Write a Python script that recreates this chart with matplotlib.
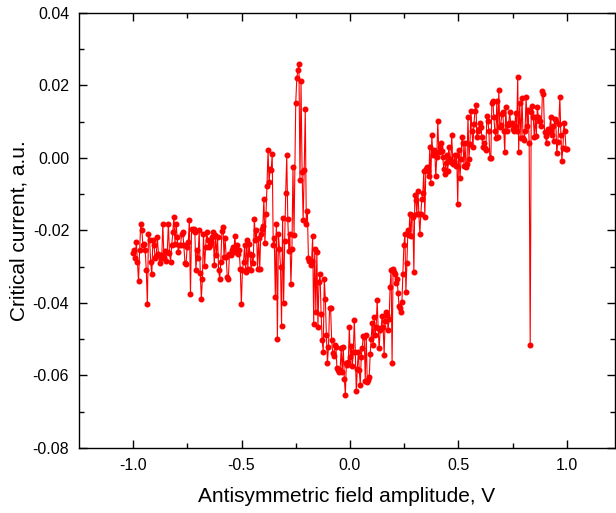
import numpy as np
import matplotlib
matplotlib.use("Agg")
import matplotlib.pyplot as plt
from matplotlib.ticker import MultipleLocator, FormatStrFormatter

plt.rcParams["font.family"] = ["Liberation Sans", "DejaVu Sans"]
plt.rcParams["axes.unicode_minus"] = False

# critical current, in pieces (left to right)
seg1 = [-0.0262, -0.0253, -0.0277, -0.0232, -0.0287, -0.0340, -0.0255, -0.0181, -0.0200, -0.0241,
        -0.0236, -0.0253, -0.0308, -0.0403, -0.0209, -0.0225, -0.0287, -0.0321, -0.0227, -0.0239,
        -0.0275, -0.0271, -0.0218, -0.0264, -0.0291, -0.0268, -0.0275, -0.0181, -0.0277, -0.0256,
        -0.0285, -0.0259, -0.0181, -0.0262, -0.0287, -0.0241, -0.0204, -0.0163, -0.0236, -0.0183,
        -0.0218, -0.0259, -0.0241, -0.0241, -0.0209, -0.0204, -0.0241, -0.0289, -0.0293, -0.0245,
        -0.0232, -0.0172, -0.0376, -0.0195, -0.0200]
seg2 = [-0.0195, -0.0204, -0.0310, -0.0255, -0.0277, -0.0198, -0.0317, -0.0388, -0.0333, -0.0211,
        -0.0299, -0.0245, -0.0204, -0.0227, -0.0245, -0.0241, -0.0232, -0.0218, -0.0204, -0.0296,
        -0.0213, -0.0268, -0.0218, -0.0310, -0.0333, -0.0287, -0.0201, -0.0189, -0.0273, -0.0222,
        -0.0273, -0.0328, -0.0333, -0.0264, -0.0268, -0.0255, -0.0245, -0.0259, -0.0216, -0.0255,
        -0.0241, -0.0264, -0.0255, -0.0305, -0.0403, -0.0310, -0.0287, -0.0241, -0.0314, -0.0225,
        -0.0305, -0.0236, -0.0264, -0.0310, -0.0268, -0.0291, -0.0167, -0.0227, -0.0200, -0.0305,
        -0.0222]
seg3 = [-0.0305, -0.0210, -0.0196, -0.0188, -0.0112, -0.0234, -0.0154, -0.0076, 0.0021, -0.0067,
        -0.0030, -0.0033, 0.0010, -0.0241, -0.0220, -0.0383, -0.0181, -0.0498, -0.0210, -0.0250,
        -0.0300, -0.0464, -0.0165, -0.0399, -0.0229, -0.0097, 0.0007, -0.0167, -0.0256, -0.0210,
        -0.0348, -0.0250, -0.0025, -0.0213]
seg4 = [0.0153, 0.0220, 0.0242, 0.0259, -0.0060, 0.0211, -0.0039, -0.0170, -0.0034, 0.0135,
        -0.0183, -0.0146, -0.0275, -0.0284, -0.0296, -0.0284, -0.0216, -0.0457, -0.0250, -0.0424,
        -0.0259, -0.0466, -0.0342, -0.0321, -0.0429, -0.0502, -0.0534, -0.0333, -0.0388, -0.0488,
        -0.0565, -0.0521, -0.0415, -0.0415, -0.0502, -0.0539, -0.0546, -0.0516, -0.0521, -0.0580,
        -0.0585, -0.0590, -0.0585, -0.0525, -0.0590, -0.0521]
seg5 = [-0.0610, -0.0653, -0.0566, -0.0571, -0.0564, -0.0465, -0.0548, -0.0520, -0.0574, -0.0534,
        -0.0447, -0.0534, -0.0644, -0.0583, -0.0534, -0.0585, -0.0626, -0.0548, -0.0525, -0.0491,
        -0.0495, -0.0614, -0.0488, -0.0617, -0.0612, -0.0605, -0.0541, -0.0498, -0.0454, -0.0516,
        -0.0440, -0.0488, -0.0465, -0.0392, -0.0470, -0.0525, -0.0475, -0.0470, -0.0436, -0.0465,
        -0.0543, -0.0449, -0.0424, -0.0433, -0.0475, -0.0443, -0.0357, -0.0308, -0.0566, -0.0305,
        -0.0314, -0.0321, -0.0346, -0.0333, -0.0372, -0.0409]
seg6 = [-0.0415, -0.0424, -0.0397, -0.0319, -0.0241, -0.0211, -0.0369, -0.0291, -0.0200, -0.0213,
        -0.0154, -0.0216, -0.0158, -0.0163, -0.0314, -0.0103, -0.0117, -0.0154, -0.0091, -0.0154,
        -0.0209, -0.0154, -0.0113, -0.0097, -0.0035, -0.0163, -0.0030, -0.0025, -0.0036, -0.0051,
        0.0030, -0.0069, 0.0064, 0.0007, 0.0022, 0.0016, -0.0051, 0.0004, 0.0101, 0.0016,
        0.0030, 0.0041, 0.0020, 0.0002, -0.0030, -0.0044, -0.0014, 0.0007, -0.0035, 0.0030,
        -0.0002, -0.0012, 0.0064, -0.0016, -0.0012, 0.0007, -0.0021, 0.0009, -0.0126, 0.0022]
seg7 = [-0.0055, -0.0003, 0.0057, 0.0041, -0.0021, 0.0041, -0.0024, -0.0016, 0.0114, -0.0003,
        0.0039, 0.0130, 0.0075, 0.0030, 0.0094, 0.0130, 0.0146, 0.0057, 0.0074, 0.0080,
        0.0096, 0.0085, 0.0057, 0.0030, 0.0041, 0.0028, 0.0022, 0.0117, 0.0103, 0.0075,
        0.0000, -0.0001, 0.0151, 0.0158, 0.0114, 0.0075, 0.0055, 0.0158, 0.0059, 0.0188,
        0.0085, 0.0092, 0.0121, 0.0126, 0.0075, 0.0016, 0.0140, 0.0075, 0.0092, 0.0096,
        0.0126, 0.0094, 0.0096, 0.0080, 0.0075, 0.0089, 0.0123, 0.0075, 0.0224, 0.0016,
        0.0151]
seg8 = [0.0055, 0.0165, 0.0055, 0.0050, 0.0075, 0.0169, 0.0089, 0.0132, 0.0041, -0.0517,
        0.0126, 0.0144, 0.0112, 0.0059, 0.0112, 0.0062, 0.0140, 0.0112, 0.0101, 0.0101,
        0.0089, 0.0185, 0.0176, 0.0071, 0.0062, 0.0041, 0.0080, 0.0071, 0.0080, 0.0114,
        0.0064, 0.0089, 0.0048, 0.0108, 0.0103, 0.0013, 0.0043, 0.0094, 0.0167, 0.0064,
        -0.0007, 0.0028, 0.0096, 0.0074, 0.0025, 0.0024]

# field amplitude span covered by each piece
seg_start = [-1.000, -0.720, -0.416, -0.250, -0.026, 0.230, 0.507, 0.788]
seg_end = [-0.725, -0.421, -0.258, -0.031, 0.226, 0.501, 0.782, 1.000]
segments = [seg1, seg2, seg3, seg4, seg5, seg6, seg7, seg8]

x = np.concatenate([np.linspace(a, b, len(s)) for a, b, s in zip(seg_start, seg_end, segments)])
y = np.concatenate([np.array(s) for s in segments])

fig = plt.figure(figsize=(6.16, 5.13), dpi=100)
ax = fig.add_axes([0.1282, 0.1267, 0.8701, 0.8480])
ax.plot(x, y, "-o", color="#ff0000", lw=0.8, ms=3.3, mec="#ff0000", mfc="#ff0000")

ax.set_xlim(-1.249, 1.221)
ax.set_ylim(-0.08, 0.04)
ax.xaxis.set_major_locator(MultipleLocator(0.5))
ax.xaxis.set_minor_locator(MultipleLocator(0.25))
ax.yaxis.set_major_locator(MultipleLocator(0.02))
ax.yaxis.set_minor_locator(MultipleLocator(0.01))
ax.xaxis.set_major_formatter(FormatStrFormatter("%.1f"))
ax.yaxis.set_major_formatter(FormatStrFormatter("%.2f"))
ax.tick_params(which="both", direction="in", top=True, right=True, labelsize=11.5, width=1)
ax.tick_params(which="major", length=6, pad=7)
ax.tick_params(which="minor", length=3.5)
for s in ax.spines.values():
    s.set_linewidth(1)

ax.set_xlabel("Antisymmetric field amplitude, V", fontsize=15, labelpad=10)
ax.set_ylabel("Critical current, a.u.", fontsize=15, labelpad=3)

fig.savefig("out.png", dpi=100)
